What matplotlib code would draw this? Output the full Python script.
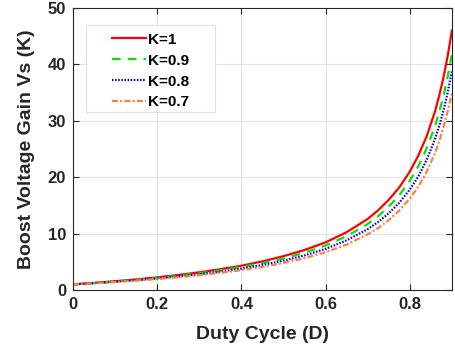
import matplotlib
matplotlib.use('Agg')
import matplotlib.pyplot as plt
from matplotlib.patches import Rectangle

# Duty cycle points and gain values
duty = [0, 0.05, 0.1, 0.15, 0.2, 0.25, 0.3, 0.35, 0.4, 0.45, 0.5, 0.55, 0.6, 0.65,
        0.7, 0.725, 0.75, 0.775, 0.8, 0.82, 0.84, 0.86, 0.87, 0.88, 0.89, 0.9]
gain_k1 = [1.00, 1.26, 1.56, 1.88, 2.25, 2.67, 3.14, 3.69, 4.30, 5.08, 6.00, 7.10, 8.45,
           10.25, 12.6, 14.15, 16.0, 18.2, 21.0, 23.8, 27.25, 31.7, 34.5, 37.7, 41.5, 46.0]
gain_k09 = [1.00, 1.24, 1.51, 1.81, 2.15, 2.53, 2.97, 3.48, 4.07, 4.76, 5.60, 6.62, 7.90,
            9.54, 11.7, 13.1, 14.8, 16.8, 19.4, 21.9, 25.1, 29.1, 31.6, 34.4, 37.8, 41.8]
gain_k08 = [1.00, 1.22, 1.47, 1.74, 2.05, 2.40, 2.80, 3.26, 3.80, 4.44, 5.20, 6.13, 7.30,
            8.80, 10.8, 12.07, 13.6, 15.47, 17.8, 20.1, 23.05, 26.8, 29.1, 31.8, 35.0, 38.8]
gain_k07 = [1.00, 1.20, 1.42, 1.67, 1.95, 2.27, 2.63, 3.05, 3.53, 4.11, 4.80, 5.64, 6.70,
            8.06, 9.87, 11.0, 12.4, 14.1, 16.2, 18.3, 20.95, 24.3, 26.4, 28.9, 31.7, 34.9]
labels = ['K=1', 'K=0.9', 'K=0.8', 'K=0.7']

plt.rcParams['font.family'] = ['Liberation Sans', 'DejaVu Sans']
plt.rcParams['font.weight'] = 'bold'

fig = plt.figure(figsize=(4.56, 3.49), dpi=100)
ax = fig.add_axes([0.160, 0.169, 0.831, 0.808])

ax.plot(duty, gain_k1, color='#ff0000', linestyle='-', linewidth=1.6, label=labels[0])
ax.plot(duty, gain_k09, color='#00e600', linestyle=(0, (3.9, 3.2)), linewidth=1.6, label=labels[1])
ax.plot(duty, gain_k08, color='#0000ff', linestyle=(0, (0.7, 0.7)), linewidth=1.6, label=labels[2])
ax.plot(duty, gain_k07, color='#ff7f3f', linestyle=(0, (2.7, 1.0, 0.9, 1.0)), linewidth=1.6, label=labels[3])

ax.set_xlim(0, 0.9)
ax.set_ylim(0, 50)
ax.set_xticks([0, 0.2, 0.4, 0.6, 0.8])
ax.set_xticklabels(['0', '0.2', '0.4', '0.6', '0.8'])
ax.set_yticks([0, 10, 20, 30, 40, 50])

ax.grid(True, color='#e3e3e3', linewidth=0.8)
ax.set_axisbelow(True)
for s in ax.spines.values():
    s.set_color('#262626')
    s.set_linewidth(0.8)
ax.tick_params(direction='in', top=True, right=True, length=4, width=0.8,
               colors='#262626', labelsize=12, pad=5)
for t in ax.get_xticklabels() + ax.get_yticklabels():
    t.set_fontweight('bold')

ax.set_xlabel('Duty Cycle (D)', fontsize=14, fontweight='bold', color='#262626', labelpad=10)
ax.set_ylabel('Boost Voltage Gain Vs (K)', fontsize=14, fontweight='bold', color='#262626', labelpad=9)

# legend box drawn separately to get the wide left padding
box = Rectangle((0.034, 0.631), 0.340, 0.309, transform=ax.transAxes,
                facecolor='white', edgecolor='#e0e0e0', linewidth=0.8, zorder=3)
ax.add_patch(box)
leg = ax.legend(loc='upper left', bbox_to_anchor=(0.103, 0.912), borderaxespad=0,
                handlelength=2.2, handletextpad=0.15, labelspacing=0.45,
                frameon=False, borderpad=0, prop={'weight': 'bold', 'size': 11})
leg.set_zorder(4)

fig.savefig('out.png', dpi=100)
